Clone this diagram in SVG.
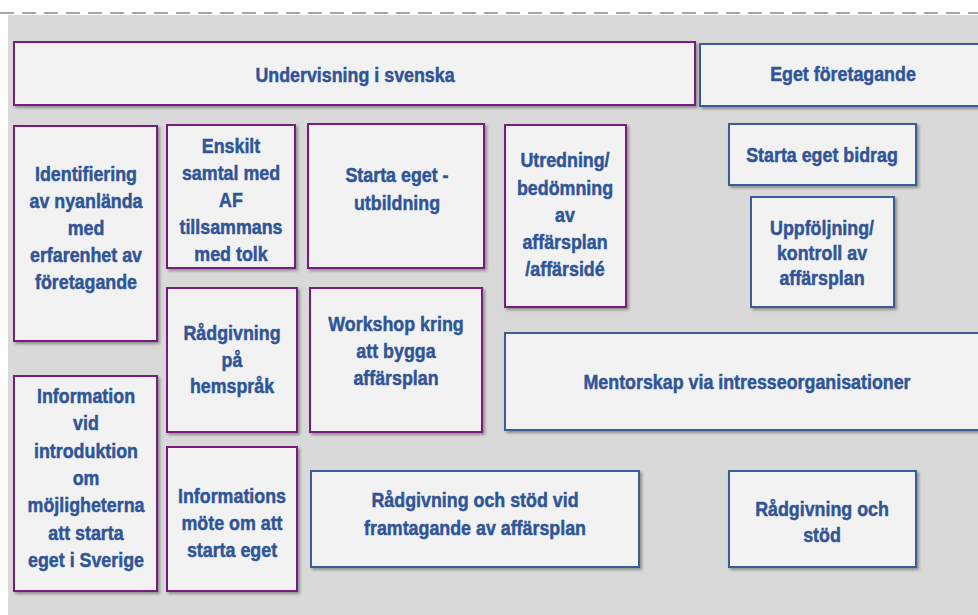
<svg xmlns="http://www.w3.org/2000/svg" width="978" height="615" viewBox="0 0 978 615">
<defs>
<filter id="sh" x="-10%" y="-10%" width="130%" height="130%">
<feDropShadow dx="2" dy="2" stdDeviation="1.5" flood-color="#000" flood-opacity="0.35"/>
</filter>
</defs>
<style>
.p{fill:#f2f2f2;stroke:#7a1f7f;stroke-width:2;filter:url(#sh)}
.b{fill:#f2f2f2;stroke:#3b5b96;stroke-width:2;filter:url(#sh)}
text{font-family:"Liberation Sans",Arial,sans-serif;font-weight:bold;font-size:21px;fill:#2f5597;stroke:#2f5597;stroke-width:0.5;text-anchor:middle}
</style>
<rect x="0" y="0" width="978" height="615" fill="#ffffff"/>
<rect x="8" y="15" width="970" height="600" fill="#d9d9d9"/>
<line x1="0" y1="13" x2="978" y2="13" stroke="#a6a6a6" stroke-width="2" stroke-dasharray="14 8"/>

<g id="undervisning"><rect class="p" x="14" y="42" width="681" height="63"/><text transform="translate(355 82) scale(0.85 1)">Undervisning i svenska</text></g>
<g id="eget-foretagande"><rect class="b" x="700" y="44" width="288" height="62"/><text transform="translate(843 81) scale(0.85 1)">Eget företagande</text></g>

<g id="identifiering"><rect class="p" x="14" y="126" width="143" height="215"/>
<text transform="translate(86 181) scale(0.85 1)">Identifiering</text>
<text transform="translate(86 208) scale(0.85 1)">av nyanlända</text>
<text transform="translate(86 235) scale(0.85 1)">med</text>
<text transform="translate(86 262) scale(0.85 1)">erfarenhet av</text>
<text transform="translate(86 289) scale(0.85 1)">företagande</text></g>

<g id="enskilt"><rect class="p" x="167" y="125" width="128" height="143"/>
<text transform="translate(231 153) scale(0.85 1)">Enskilt</text>
<text transform="translate(231 180) scale(0.85 1)">samtal med</text>
<text transform="translate(231 207) scale(0.85 1)">AF</text>
<text transform="translate(231 234) scale(0.85 1)">tillsammans</text>
<text transform="translate(231 261) scale(0.85 1)">med tolk</text></g>

<g id="starta-utbildning"><rect class="p" x="308" y="124" width="176" height="144"/>
<text transform="translate(397 182) scale(0.85 1)">Starta eget -</text>
<text transform="translate(397 210) scale(0.85 1)">utbildning</text></g>

<g id="utredning"><rect class="p" x="505" y="125" width="121" height="182"/>
<text transform="translate(565 167) scale(0.85 1)">Utredning/</text>
<text transform="translate(565 195) scale(0.85 1)">bedömning</text>
<text transform="translate(565 222) scale(0.85 1)">av</text>
<text transform="translate(565 249) scale(0.85 1)">affärsplan</text>
<text transform="translate(565 276) scale(0.85 1)">/affärsidé</text></g>

<g id="starta-bidrag"><rect class="b" x="729" y="124" width="187" height="61"/>
<text transform="translate(822 162) scale(0.85 1)">Starta  eget bidrag</text></g>

<g id="uppfoljning"><rect class="b" x="751" y="197" width="143" height="110"/>
<text transform="translate(822 235) scale(0.85 1)">Uppföljning/</text>
<text transform="translate(822 260) scale(0.85 1)">kontroll av</text>
<text transform="translate(822 285) scale(0.85 1)">affärsplan</text></g>

<g id="radgivning-hemsprak"><rect class="p" x="167" y="288" width="130" height="144"/>
<text transform="translate(232 340) scale(0.85 1)">Rådgivning</text>
<text transform="translate(232 367) scale(0.85 1)">på</text>
<text transform="translate(232 393) scale(0.85 1)">hemspråk</text></g>

<g id="workshop"><rect class="p" x="310" y="288" width="172" height="144"/>
<text transform="translate(396 331) scale(0.85 1)">Workshop kring</text>
<text transform="translate(396 358) scale(0.85 1)">att  bygga</text>
<text transform="translate(396 385) scale(0.85 1)">affärsplan</text></g>

<g id="mentorskap"><rect class="b" x="505" y="333" width="484" height="97"/>
<text transform="translate(747 389) scale(0.85 1)">Mentorskap  via intresseorganisationer</text></g>

<g id="information-vid"><rect class="p" x="14" y="376" width="143" height="215"/>
<text transform="translate(86 403) scale(0.85 1)">Information</text>
<text transform="translate(86 430) scale(0.85 1)">vid</text>
<text transform="translate(86 458) scale(0.85 1)">introduktion</text>
<text transform="translate(86 485) scale(0.85 1)">om</text>
<text transform="translate(86 512) scale(0.85 1)">möjligheterna</text>
<text transform="translate(86 540) scale(0.85 1)">att starta</text>
<text transform="translate(86 567) scale(0.85 1)">eget i Sverige</text></g>

<g id="informationsmote"><rect class="p" x="167" y="447" width="130" height="144"/>
<text transform="translate(232 503) scale(0.85 1)">Informations</text>
<text transform="translate(232 530) scale(0.85 1)">möte om att</text>
<text transform="translate(232 557) scale(0.85 1)">starta eget</text></g>

<g id="radgivning-affarsplan"><rect class="b" x="311" y="471" width="328" height="96"/>
<text transform="translate(475 507) scale(0.85 1)">Rådgivning och stöd vid</text>
<text transform="translate(475 535) scale(0.85 1)">framtagande  av  affärsplan</text></g>

<g id="radgivning-stod"><rect class="b" x="729" y="471" width="187" height="96"/>
<text transform="translate(822 516) scale(0.85 1)">Rådgivning och</text>
<text transform="translate(822 542) scale(0.85 1)">stöd</text></g>
</svg>
